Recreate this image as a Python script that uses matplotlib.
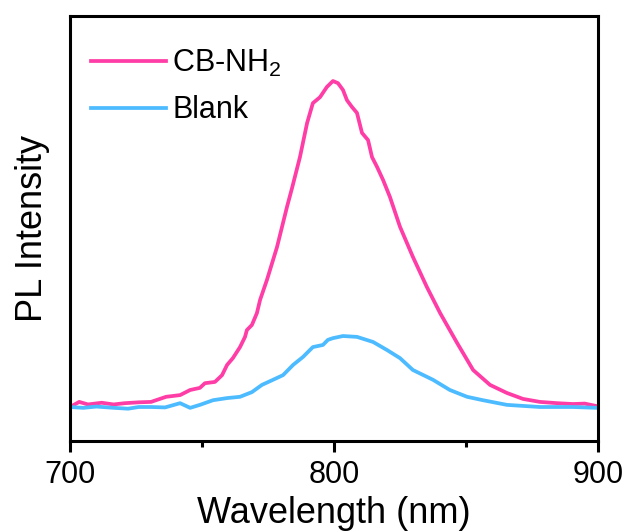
import matplotlib
matplotlib.use("Agg")
import matplotlib.pyplot as plt
from matplotlib.ticker import MultipleLocator

plt.rcParams['font.family'] = ['Liberation Sans', 'DejaVu Sans']
plt.rcParams['mathtext.default'] = 'regular'

# Wavelength (nm) and PL intensity (a.u.)
wl_cb = [700.0, 703.5, 706.8, 712.0, 716.5, 720.8, 726.0, 730.7, 736.4, 741.7, 745.5, 749.2,
         751.1, 754.9, 757.6, 759.5, 761.7, 764.4, 766.3, 767.0, 768.9, 770.8, 772.0,
         774.6, 778.4, 782.2, 784.1, 787.1, 789.8, 792.0, 794.7, 797.3, 799.6, 801.5,
         803.4, 804.9, 806.8, 808.7, 810.6, 812.9, 814.4, 816.3, 818.6, 821.2, 825.0,
         829.9, 835.2, 840.2, 846.6, 852.7, 859.1, 865.5, 871.6, 878.0, 884.5, 890.5,
         895.0, 899.6]
int_cb = [0.080, 0.092, 0.086, 0.090, 0.086, 0.089, 0.091, 0.092, 0.104, 0.108, 0.120, 0.125,
          0.136, 0.139, 0.155, 0.179, 0.195, 0.221, 0.245, 0.261, 0.273, 0.301, 0.332,
          0.379, 0.456, 0.551, 0.595, 0.668, 0.748, 0.795, 0.809, 0.833, 0.847, 0.842,
          0.826, 0.802, 0.786, 0.772, 0.725, 0.708, 0.668, 0.645, 0.614, 0.574, 0.504,
          0.433, 0.362, 0.301, 0.231, 0.167, 0.132, 0.113, 0.099, 0.092, 0.089, 0.087,
          0.088, 0.082]

wl_blank = [700.0, 705.0, 710.0, 716.7, 722.0, 726.0, 730.7, 736.0, 741.7, 745.5, 749.2,
            754.2, 759.5, 764.4, 768.9, 772.7, 776.9, 780.7, 784.5, 788.3, 792.0, 795.8,
            797.7, 799.6, 803.4, 808.7, 814.8, 820.1, 825.0, 829.9, 837.5, 843.9, 850.4,
            856.4, 865.5, 878.0, 890.5, 899.6]
int_blank = [0.080, 0.078, 0.081, 0.078, 0.076, 0.080, 0.080, 0.079, 0.089, 0.078, 0.085,
             0.096, 0.101, 0.104, 0.115, 0.132, 0.144, 0.155, 0.179, 0.198, 0.221, 0.226,
             0.238, 0.242, 0.247, 0.245, 0.233, 0.214, 0.195, 0.167, 0.144, 0.120, 0.104,
             0.096, 0.085, 0.080, 0.080, 0.078]

labels = ['CB-NH$_2$', 'Blank']
colors = ['#FF3DA6', '#4DBBFF']

fig = plt.figure(figsize=(6.27, 5.32), dpi=100)
ax = fig.add_axes([70/627, 1-441/532, (598-70)/627, (441-16)/532])

ax.plot(wl_cb, int_cb, color=colors[0], lw=2.7, label=labels[0])
ax.plot(wl_blank, int_blank, color=colors[1], lw=2.7, label=labels[1])

ax.set_xlim(700, 900)
ax.set_ylim(0, 1)
ax.xaxis.set_major_locator(MultipleLocator(100))
ax.xaxis.set_minor_locator(MultipleLocator(50))
ax.tick_params(axis='x', which='major', direction='out', length=8, width=2.2, labelsize=22, pad=6)
ax.tick_params(axis='x', which='minor', direction='out', length=4, width=2.2)
ax.set_yticks([])
for s in ax.spines.values():
    s.set_linewidth(2.2)

ax.set_xlabel('Wavelength (nm)', fontsize=26, labelpad=4)
ax.set_ylabel('PL Intensity', fontsize=26, labelpad=14.5)

ax.legend(loc='upper left', bbox_to_anchor=(0.0, 0.976), frameon=False, fontsize=22,
          handlelength=2.45, handletextpad=0.2, labelspacing=0.55, borderaxespad=0.3)

fig.savefig('out.png', dpi=100)
